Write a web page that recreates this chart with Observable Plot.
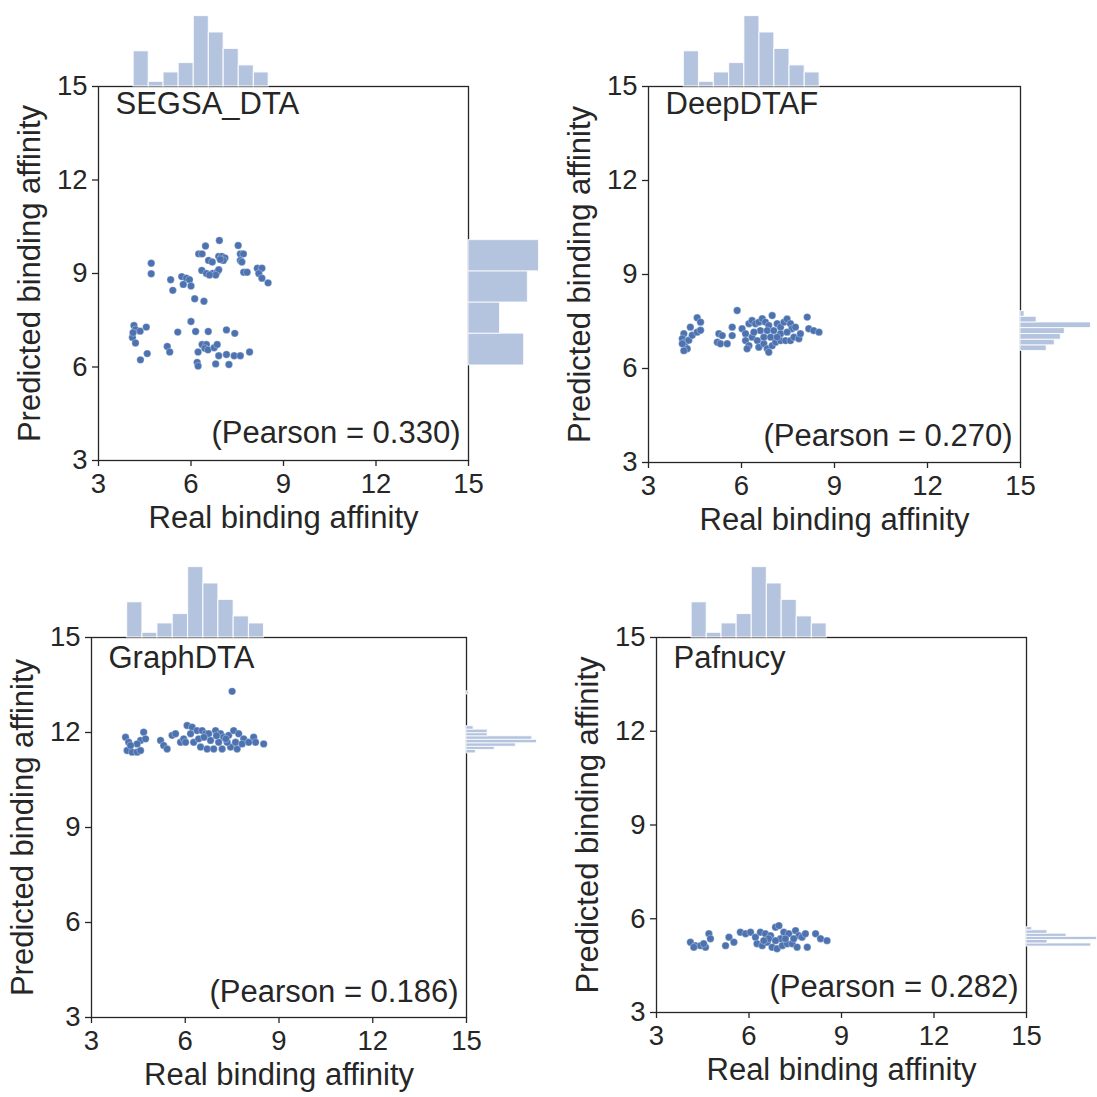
<!DOCTYPE html>
<html>
<head>
<meta charset="utf-8">
<script src="https://cdn.jsdelivr.net/npm/d3@7"></script>
<script src="https://cdn.jsdelivr.net/npm/@observablehq/plot@0.6"></script>
<style>
  html, body { margin: 0; padding: 0; background: #ffffff; }
  #chart { position: relative; width: 1097px; height: 1097px; overflow: hidden; background: #ffffff; }
  #chart svg { position: absolute; overflow: visible; }
</style>
</head>
<body>
<div id="chart"></div>
<script>
// ---------- DATA ----------
const tickValues = [3, 6, 9, 12, 15];
const xAxisLabel = "Real binding affinity";
const yAxisLabel = "Predicted binding affinity";

// shared marginal histogram of the real binding affinity (top)
const realBinEdges = [4.14, 4.63, 5.11, 5.60, 6.09, 6.58, 7.06, 7.55, 8.04, 8.52];
const realBinCounts = [15, 2, 6, 10, 30, 23, 16, 9, 6];

const modelNames = ["SEGSA_DTA", "DeepDTAF", "GraphDTA", "Pafnucy"];
const pearsonValues = ["0.330", "0.270", "0.186", "0.282"];

// scatter points [real, predicted]
const segsaPoints = [
  [6.92,10.06],[6.47,9.88],[7.53,9.90],[6.25,9.63],[6.36,9.63],[6.90,9.55],[7.00,9.55],[7.10,9.50],
  [7.05,9.42],[6.95,9.45],[7.60,9.63],[7.70,9.63],[7.60,9.42],[7.65,9.37],[6.57,9.42],[6.69,9.37],
  [4.71,9.33],[4.71,8.99],[6.35,9.10],[6.50,9.00],[6.70,9.00],[6.85,9.05],[6.90,9.12],[6.80,8.95],
  [6.60,8.95],[7.71,9.04],[7.82,9.04],[8.15,9.17],[8.30,9.17],[8.20,9.00],[8.30,8.85],[8.50,8.70],
  [5.34,8.80],[5.70,8.90],[5.85,8.85],[5.95,8.80],[5.75,8.65],[6.00,8.60],[5.41,8.46],[6.12,8.19],
  [6.42,8.11],
  [6.00,7.46],[4.15,7.33],[4.20,7.20],[4.35,7.15],[4.55,7.28],[4.10,6.95],[4.20,6.77],[4.12,7.10],
  [5.57,7.12],[6.15,7.14],[6.56,7.14],[7.15,7.19],[7.42,7.08],[5.23,6.66],[5.31,6.48],[6.36,6.72],
  [6.50,6.72],[6.45,6.60],[6.55,6.55],[6.75,6.62],[6.85,6.72],[6.23,6.48],[4.58,6.43],[4.36,6.23],
  [6.90,6.36],[7.15,6.40],[7.40,6.36],[7.60,6.36],[7.90,6.48],[6.20,6.15],[6.23,6.03],[6.80,6.10],
  [7.23,6.08]
];
const deepdtafPoints = [
  [4.57,7.62],[4.68,7.48],[4.35,7.32],[4.14,7.11],[4.09,6.95],[4.19,6.84],[4.30,6.90],[4.41,7.06],
  [4.57,7.16],[4.68,7.22],[4.25,6.63],[4.14,6.57],[4.09,6.79],
  [5.86,7.85],[5.27,7.11],[5.38,7.05],[5.22,6.84],[5.32,6.79],[5.54,6.79],[5.70,7.32],[5.70,7.05],
  [6.02,7.27],[6.13,7.11],[6.24,7.43],[6.34,7.53],[6.45,7.43],[6.56,7.48],[6.67,7.59],[6.77,7.48],
  [6.88,7.37],[6.99,7.69],[7.15,7.43],[7.26,7.32],[7.37,7.48],[7.47,7.58],[7.58,7.43],[7.63,7.27],
  [7.74,7.32],[8.12,7.64],[8.17,7.27],[8.33,7.21],[8.50,7.16],[6.13,6.89],[6.24,6.73],[6.18,6.63],
  [6.34,7.00],[6.51,6.89],[6.56,6.68],[6.72,6.79],[6.83,6.63],[6.88,6.52],[6.99,6.73],[7.10,6.84],
  [7.26,6.89],[7.42,6.89],[7.58,6.89],[7.69,7.00],[7.85,6.95],[7.90,7.11],[6.61,7.21],[6.83,7.21],
  [7.04,7.21],[7.26,7.11],[7.47,7.16],[6.40,7.16],[6.72,7.00],[6.94,7.00],[7.15,7.00]
];
const graphdtaPoints = [
  [7.50,13.30],
  [4.09,11.85],[4.19,11.69],[4.14,11.43],[4.30,11.38],[4.46,11.38],[4.57,11.43],[4.57,11.75],
  [4.67,12.01],[4.73,11.80],[4.46,11.64],[4.25,11.59],
  [5.21,11.75],[5.31,11.59],[5.42,11.48],[5.58,11.91],[5.69,11.96],[5.85,11.69],[5.95,11.80],
  [6.06,12.22],[6.22,12.17],[6.17,11.96],[6.38,12.06],[6.54,12.06],[6.65,11.96],[6.75,11.96],
  [6.97,12.06],[7.13,11.96],[7.23,11.85],[7.39,11.91],[7.55,12.06],[7.71,11.96],[7.87,11.80],
  [8.19,11.85],[8.25,11.69],[8.51,11.64],[6.27,11.69],[6.49,11.54],[6.70,11.48],[6.91,11.48],
  [7.18,11.48],[7.45,11.54],[7.66,11.48],[6.01,11.69],[6.43,11.80],[6.81,11.75],[7.07,11.69],
  [7.34,11.69],[7.61,11.69],[7.82,11.64],[8.03,11.69],[6.60,11.85],[7.00,11.90],[7.30,11.80]
];
const pafnucyPoints = [
  [4.10,5.25],[4.26,5.14],[4.43,5.14],[4.59,5.09],[4.21,5.09],[4.70,5.52],[4.75,5.36],[4.53,5.20],
  [5.24,5.14],[5.35,5.41],[5.51,5.25],[5.72,5.57],[5.89,5.52],[6.05,5.57],
  [6.21,5.41],[6.37,5.57],[6.53,5.52],[6.70,5.46],[6.86,5.73],[6.97,5.78],[7.13,5.57],[7.29,5.52],
  [7.51,5.62],[7.62,5.46],[7.72,5.41],[7.83,5.52],[6.26,5.20],[6.43,5.14],[6.59,5.25],[6.75,5.09],
  [6.91,5.04],[7.08,5.14],[7.24,5.20],[7.40,5.20],[7.56,5.09],[7.89,5.09],[6.64,5.36],[7.02,5.36],
  [7.45,5.36],[6.48,5.30],[6.86,5.30],[7.18,5.36],[8.16,5.52],[8.32,5.36],[8.53,5.30]
];

// right marginal histograms of the predicted values (bins bottom to top)
const segsaPredEdges = [6.05, 7.07, 8.07, 9.07, 10.07];
const segsaPredCounts = [30, 17, 32, 38];
const deepdtafPredEdges = [6.56, 6.74, 6.92, 7.10, 7.29, 7.47, 7.65, 7.83];
const deepdtafPredCounts = [13, 17, 20, 22, 35, 8, 2];
const graphdtaPredEdges = [11.34, 11.45, 11.55, 11.66, 11.77, 11.88, 11.98, 12.09, 12.20, 13.20, 13.30];
const graphdtaPredCounts = [4, 12, 21, 30, 28, 9, 9, 3, 0, 1];
const pafnucyPredEdges = [5.11, 5.21, 5.32, 5.42, 5.52, 5.63, 5.73];
const pafnucyPredCounts = [34, 11, 37, 21, 11, 3];

// ---------- DRAWING ----------
const FONT = "'Liberation Sans', Arial, Helvetica, sans-serif";
const INK = "#262626";
const DOT = "#4c72b0";
const BAR = "#b4c4df";

function binsOf(edges, counts) {
  return counts.map((c, i) => ({lo: edges[i], hi: edges[i + 1], n: c}));
}

const panels = [
  {name: modelNames[0], r: pearsonValues[0], pts: segsaPoints, edges: segsaPredEdges, counts: segsaPredCounts,
   L: 98, R: 468, T: 86, B: 460, titleDy: 18, pearDy: -27},
  {name: modelNames[1], r: pearsonValues[1], pts: deepdtafPoints, edges: deepdtafPredEdges, counts: deepdtafPredCounts,
   L: 648, R: 1020, T: 86, B: 462, titleDy: 18, pearDy: -26},
  {name: modelNames[2], r: pearsonValues[2], pts: graphdtaPoints, edges: graphdtaPredEdges, counts: graphdtaPredCounts,
   L: 91, R: 466, T: 637, B: 1017, titleDy: 21, pearDy: -25},
  {name: modelNames[3], r: pearsonValues[3], pts: pafnucyPoints, edges: pafnucyPredEdges, counts: pafnucyPredCounts,
   L: 656, R: 1026, T: 637, B: 1012, titleDy: 21, pearDy: -25}
];

const chart = document.getElementById("chart");
const ML = 90, MR = 20, MT = 20, MB = 80, HIST = 74;

function place(svg, left, top) {
  svg.style.left = left + "px";
  svg.style.top = top + "px";
  chart.appendChild(svg);
}

const baseStyle = {fontFamily: FONT, fontSize: "27.5px", color: INK, background: "transparent", overflow: "visible"};

for (const p of panels) {
  const fw = p.R - p.L, fh = p.B - p.T;

  const main = Plot.plot({
    width: fw + ML + MR, height: fh + MT + MB,
    marginLeft: ML, marginRight: MR, marginTop: MT, marginBottom: MB,
    x: {domain: [3, 15]}, y: {domain: [3, 15]},
    style: baseStyle,
    marks: [
      Plot.dot(p.pts, {x: d => d[0], y: d => d[1], r: 3.7, fill: DOT, stroke: "white", strokeWidth: 0.3}),
      Plot.frame({stroke: INK, strokeWidth: 1.3}),
      Plot.axisX({ticks: tickValues, tickSize: 6, tickPadding: 7, tickFormat: d => String(d), label: null, stroke: INK, strokeWidth: 1.3}),
      Plot.axisY({ticks: tickValues, tickSize: 6, tickPadding: 5, tickFormat: d => String(d), label: null, stroke: INK, strokeWidth: 1.3}),
      Plot.text([xAxisLabel], {frameAnchor: "bottom", dy: 58, lineAnchor: "middle", fontSize: 31, fill: INK}),
      Plot.text([yAxisLabel], {frameAnchor: "left", dx: -68, rotate: -90, lineAnchor: "middle", textAnchor: "middle", fontSize: 31, fill: INK}),
      Plot.text([p.name], {frameAnchor: "top-left", dx: 17, dy: p.titleDy, textAnchor: "start", lineAnchor: "middle", fontSize: 31, fill: INK}),
      Plot.text(["(Pearson = " + p.r + ")"], {frameAnchor: "bottom-right", dx: -8, dy: p.pearDy, textAnchor: "end", lineAnchor: "middle", fontSize: 31, fill: INK})
    ]
  });
  place(main, p.L - ML, p.T - MT);

  // top marginal histogram
  const topBins = binsOf(realBinEdges, realBinCounts);
  const topMax = d3.max(realBinCounts);
  const top = Plot.plot({
    width: fw + ML + MR, height: HIST,
    marginLeft: ML, marginRight: MR, marginTop: 0, marginBottom: 0,
    x: {domain: [3, 15], axis: null}, y: {domain: [0, topMax * 1.05], axis: null},
    style: baseStyle,
    marks: [
      Plot.rectY(topBins, {x1: "lo", x2: "hi", y1: 0, y2: "n", fill: BAR, stroke: "white", strokeWidth: 1.2, strokeOpacity: 0.8})
    ]
  });
  place(top, p.L - ML, p.T - HIST);

  // right marginal histogram
  const rBins = binsOf(p.edges, p.counts).filter(b => b.n > 0);
  const rMax = d3.max(p.counts);
  const right = Plot.plot({
    width: HIST, height: fh + MT + MB,
    marginLeft: 0, marginRight: 0, marginTop: MT, marginBottom: MB,
    x: {domain: [0, rMax * 1.05], axis: null}, y: {domain: [3, 15], axis: null},
    style: baseStyle,
    marks: [
      Plot.rectX(rBins, {y1: "lo", y2: "hi", x1: 0, x2: "n", fill: BAR, stroke: "white", strokeWidth: 1, strokeOpacity: 0.8})
    ]
  });
  place(right, p.R, p.T - MT);
}
</script>
</body>
</html>
